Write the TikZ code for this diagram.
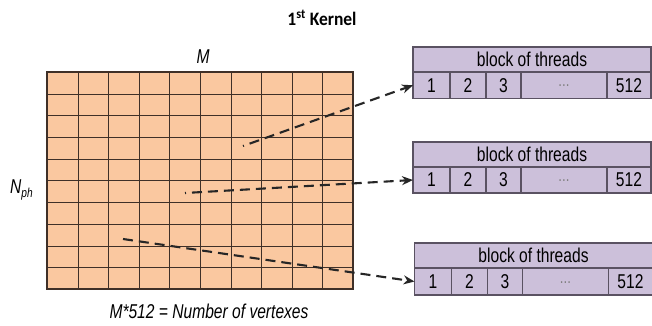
\documentclass[tikz,border=0pt]{standalone}
\usepackage{fontspec}
\setmainfont{Liberation Sans}[FakeStretch=0.78]
\newfontfamily\titlefont{Carlito}[FakeStretch=0.92]
\usetikzlibrary{arrows.meta}
\definecolor{peach}{HTML}{FAC8A0}
\definecolor{gridline}{HTML}{3F3028}
\definecolor{lavender}{HTML}{CCC0DA}
\definecolor{blockline}{HTML}{5A5262}
\definecolor{dotsgray}{HTML}{808080}
\tikzset{
  cellbox/.style={draw=blockline, fill=lavender, line width=1.1pt, inner sep=0pt, outer sep=0pt,
    anchor=north west, font=\fontsize{20}{22}\selectfont},
  dasharrow/.style={line width=2.1pt, dash pattern=on 10pt off 6pt, draw=black!85,
    -{Stealth[length=11pt,width=9pt]}},
  lbl/.style={inner sep=0pt, font=\fontsize{20}{22}\selectfont\itshape}
}
\newcommand{\tblock}[4]{% prefix, x, y top, cell height
  \node[cellbox, minimum width=238pt, minimum height=25pt] (#1h) at (#2,#3) {block of threads};
  \node[cellbox, minimum width=37pt, minimum height=#4pt] (#1c1) at (#2,#3+25) {1};
  \node[cellbox, minimum width=36pt, minimum height=#4pt] (#1c2) at (#2+37,#3+25) {2};
  \node[cellbox, minimum width=35pt, minimum height=#4pt] (#1c3) at (#2+73,#3+25) {3};
  \node[cellbox, minimum width=86pt, minimum height=#4pt] (#1c4) at (#2+108,#3+25) {\color{dotsgray}\fontsize{17}{17}\selectfont\raisebox{-3pt}{...}};
  \node[cellbox, minimum width=44pt, minimum height=#4pt] (#1c5) at (#2+194,#3+25) {512};
}
\begin{document}
\begin{tikzpicture}[x=1pt,y=-1pt]
\useasboundingbox (0,0) rectangle (652,326);
% title
\node[inner sep=0pt, font=\titlefont\bfseries\fontsize{19}{21}\selectfont] (title) at (322,18) {1\textsuperscript{st} Kernel};
% grid
\node[draw=gridline, fill=peach, line width=1.2pt, inner sep=0pt, outer sep=0pt, anchor=north west,
  minimum width=306pt, minimum height=217pt] (grid) at (47,72) {};
\foreach \i in {1,...,9} {
  \pgfmathsetmacro{\gx}{round(47+\i*30.6)+0.5}
  \pgfmathsetmacro{\gy}{round(72+\i*21.7)+0.5}
  \draw[gridline, line width=1.2pt] (\gx,72) -- (\gx,289);
  \draw[gridline, line width=1.2pt] (47,\gy) -- (353,\gy);
}
% labels
\node[lbl] (mlabel) at (203,57) {M};
\node[lbl, anchor=west] (nlabel) at (10,190) {N\raisebox{-4pt}{\fontsize{13}{13}\selectfont ph}};
\node[lbl] (caption) at (209,311) {M*512 = Number of vertexes};
% blocks
\tblock{a}{413}{47}{26.5}
\tblock{b}{413}{142}{26}
\tblock{c}{414.5}{243}{27}
% arrow start points
\coordinate (s1) at (243,146);
\coordinate (s2) at (185,193);
\coordinate (s3) at (123,239);
\draw[dasharrow, dash phase=9pt] (s1) -- (ac1.west);
\draw[dasharrow, dash phase=9pt] (s2) -- (bc1.west);
\draw[dasharrow] (s3) -- (cc1.west);
\end{tikzpicture}
\end{document}
